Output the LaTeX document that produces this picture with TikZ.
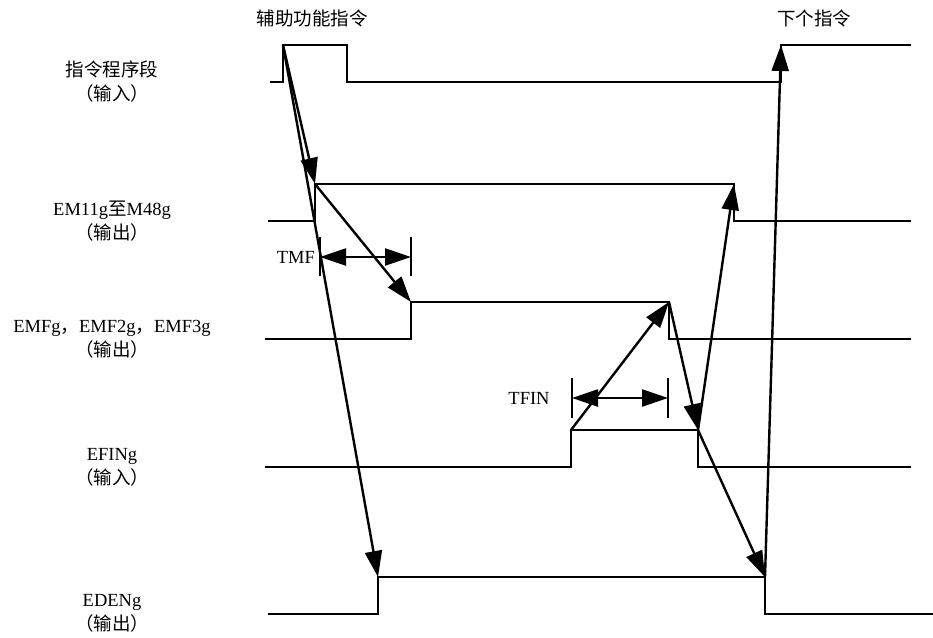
\documentclass[tikz,border=0pt]{standalone}
\usepackage{fontspec}
\setmainfont{Liberation Serif}
\newfontfamily\cjk{Noto Sans CJK SC}
\usetikzlibrary{arrows.meta}

\begin{document}
\begin{tikzpicture}[x=1pt, y=-1pt,
  wave/.style = {line width=2.4pt},
  arr/.style  = {-{Triangle[length=26pt,width=17pt]}, line width=2.4pt},
  dim/.style  = {{Triangle[length=26pt,width=17pt]}-{Triangle[length=26pt,width=17pt]}, line width=2.4pt},
  lbl/.style  = {align=center, font=\fontsize{18.5}{24}\selectfont},
  note/.style = {font=\fontsize{18.5}{22}\selectfont, inner sep=1pt}
]
  \useasboundingbox (0,0) rectangle (933,637);

  % edges of the signals
  \coordinate (ins-up)   at (283,45);
  \coordinate (ins-next) at (781,45);
  \coordinate (em-up)    at (315,184);
  \coordinate (em-dn)    at (734,184);
  \coordinate (emf-up)   at (411,302);
  \coordinate (emf-dn)   at (669,302);
  \coordinate (fin-up)   at (571,430);
  \coordinate (fin-dn)   at (698,430);
  \coordinate (den-up)   at (378,577);
  \coordinate (den-dn)   at (765,577);

  \draw[wave] (270,82) -| (ins-up) -| (347,82) -| (ins-next) -- (911,45);
  \draw[wave] (268,221) -| (em-up) -- (em-dn) |- (911,221);
  \draw[wave] (265,339) -| (emf-up) -- (emf-dn) |- (911,339);
  \draw[wave] (265,467) -| (fin-up) -- (fin-dn) |- (911,467);
  \draw[wave] (268,614) -| (den-up) -- (den-dn) |- (933,614);

  \node[lbl] (l-ins) at (112,82)  {{\cjk 指令程序段}\\{\cjk （输入）}};
  \node[lbl] (l-em)  at (112,221) {EM11g{\cjk 至}M48g\\{\cjk （输出）}};
  \node[lbl] (l-emf) at (112,339) {EMFg{\cjk ，}EMF2g{\cjk ，}EMF3g\\{\cjk （输出）}};
  \node[lbl] (l-fin) at (112,467) {EFINg\\{\cjk （输入）}};
  \node[lbl] (l-den) at (112,613) {EDENg\\{\cjk （输出）}};

  \node[note] (t-aux)  at (312,18) {\cjk 辅助功能指令};
  \node[note] (t-next) at (814,18) {\cjk 下个指令};

  % time intervals
  \coordinate (tmf-a)  at (320,257);
  \coordinate (tmf-b)  at (411,257);
  \coordinate (tfin-a) at (572,398);
  \coordinate (tfin-b) at (668,398);
  \draw[wave] ([yshift=20pt]tmf-a) -- ([yshift=-19pt]tmf-a);
  \draw[wave] ([yshift=20pt]tmf-b) -- ([yshift=-19pt]tmf-b);
  \draw[wave] ([yshift=20pt]tfin-a) -- ([yshift=-20pt]tfin-a);
  \draw[wave] ([yshift=20pt]tfin-b) -- ([yshift=-20pt]tfin-b);
  \draw[dim] (tmf-a) -- (tmf-b);
  \draw[dim] (tfin-a) -- (tfin-b);
  \node[note, anchor=east] (t-tmf) at (316,257) {TMF};
  \node[note] (t-tfin) at (529,398) {TFIN};

  \draw[arr] (ins-up) -- (em-up);
  \draw[arr] (ins-up) -- (den-up);
  \draw[arr] (em-up) -- (emf-up);
  \draw[arr] (fin-up) -- (emf-dn);
  \draw[arr] (emf-dn) -- (fin-dn);
  \draw[arr] (fin-dn) -- (em-dn);
  \draw[arr] (fin-dn) -- (den-dn);
  \draw[arr] (den-dn) -- (ins-next);
\end{tikzpicture}
\end{document}
